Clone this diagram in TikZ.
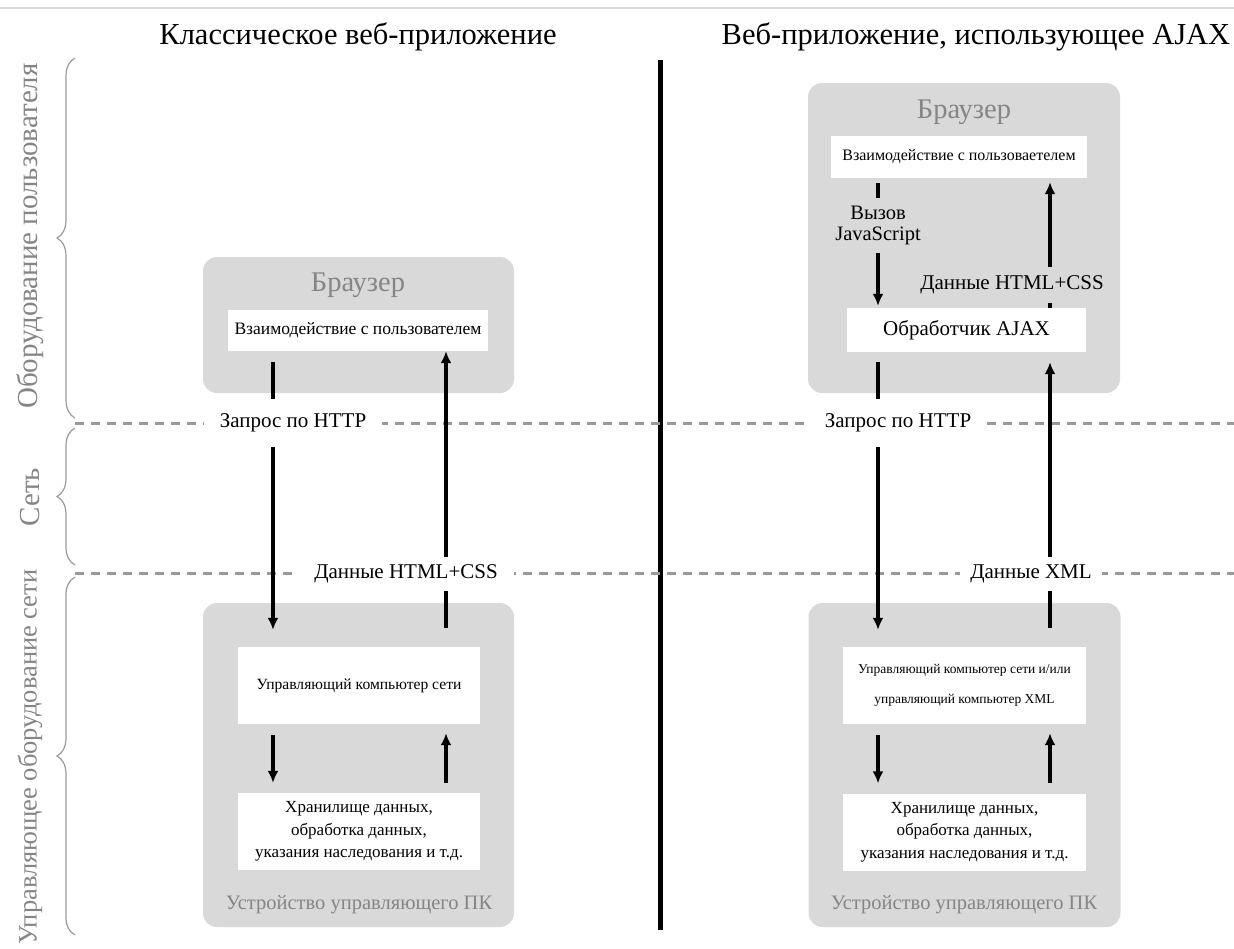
\documentclass[tikz,border=0pt]{standalone}
\usepackage{fontspec}
\setmainfont{Liberation Serif}
\usetikzlibrary{arrows.meta,positioning,decorations.pathreplacing}

\definecolor{panelgray}{HTML}{D9D9D9}
\definecolor{textgray}{HTML}{858585}
\definecolor{dashgray}{HTML}{9A9A9A}

\begin{document}
\begin{tikzpicture}[x=1pt, y=-1pt, >=Latex,
    panel/.style={fill=panelgray, rounded corners=14pt, inner sep=0pt},
    inner/.style={fill=white, inner sep=0pt, align=center,
        font=\fontsize{17.5}{22}\selectfont},
    head/.style={text=textgray, font=\fontsize{28.5}{32}\selectfont},
    foot/.style={text=textgray, font=\fontsize{20.5}{24}\selectfont},
    title/.style={font=\fontsize{30.5}{34}\selectfont},
    side/.style={text=textgray, rotate=90, font=\fontsize{29}{32}\selectfont},
    cut/.style={fill=white, inner xsep=16pt, inner ysep=0pt, align=center,
        font=\fontsize{21}{21}\selectfont},
    cutg/.style={cut, fill=panelgray, inner xsep=4pt},
    arrow/.style={->, line width=3.2pt, >={Latex[length=12pt,width=11pt]}},
    dashline/.style={dashgray, line width=3pt, dash pattern=on 9pt off 7pt},
    brace/.style={decorate, decoration={brace, amplitude=18pt},
        draw=dashgray, line width=1.2pt}
  ]

  \useasboundingbox (0,0) rectangle (1234,948);

  % frame line and titles
  \draw[panelgray, line width=1.5pt] (0,8) -- (1234,8);
  \node[title] (tL) at (358,37) {Классическое веб-приложение};
  \node[title] (tR) at (976,37) {Веб-приложение, использующее AJAX};
  \draw[line width=5pt] (660,60) -- (660,930);

  % layers
  \draw[brace] (75,418) -- (75,58);
  \draw[brace] (75,565) -- (75,428);
  \draw[brace] (75,935) -- (75,577);
  \node[side] (userhw) at (30,236) {Оборудование пользователя};
  \node[side] (net) at (30,497) {Сеть};
  \node[side, font=\fontsize{26.5}{30}\selectfont] (srvhw) at (30,757)
    {Управляющее оборудование сети};
  \draw[dashline] (75,423) -- (1234,423);
  \draw[dashline] (75,573) -- (1234,573);

  % classic web application
  \node[panel, minimum width=311pt, minimum height=136pt] (brL) at (358.5,325) {};
  \node[head] at (358,285) {Браузер};
  \node[inner, minimum width=260pt, minimum height=41pt] (uiL) at (358,330.5)
    {Взаимодействие с пользователем};
  \node[panel, minimum width=311pt, minimum height=324pt] (srvL) at (358.5,765) {};
  \node[inner, minimum width=242pt, minimum height=77pt,
    font=\fontsize{15.6}{22}\selectfont] (hostL) at (359,685.5)
    {Управляющий компьютер сети};
  \node[inner, minimum width=242pt, minimum height=77pt,
    font=\fontsize{17}{22.5}\selectfont] (dataL) at (359,831.5)
    {Хранилище данных,\\обработка данных,\\указания наследования и т.д.};
  \node[foot] at (359,905) {Устройство управляющего ПК};

  \coordinate (dnL) at (273,0);
  \coordinate (upL) at (446,0);
  \draw[arrow, shorten <=11pt, shorten >=17pt] (uiL.south -| dnL) -- (hostL.north -| dnL);
  \draw[arrow, shorten <=19pt] (hostL.north -| upL) -- (uiL.south -| upL);
  \draw[arrow, shorten <=11pt, shorten >=10pt] (hostL.south -| dnL) -- (dataL.north -| dnL);
  \draw[arrow, shorten <=10pt, shorten >=9pt] (dataL.north -| upL) -- (hostL.south -| upL);
  \node[cut, minimum height=48pt] (httpL) at (293,423) {Запрос по HTTP};
  \node[cut, minimum height=34pt] (htmlL) at (406,574) {Данные HTML+CSS};

  % web application with AJAX
  \node[panel, minimum width=312pt, minimum height=310pt] (brR) at (964,238) {};
  \node[head] at (964,112) {Браузер};
  \node[inner, minimum width=256pt, minimum height=42pt,
    font=\fontsize{16}{20}\selectfont] (uiR) at (959,157)
    {Взаимодействие с пользоваетелем};
  \node[inner, minimum width=239pt, minimum height=44pt,
    font=\fontsize{21}{21}\selectfont] (ajax) at (966.5,330) {Обработчик AJAX};
  \node[panel, minimum width=312pt, minimum height=324pt] (srvR) at (964.5,765) {};
  \node[inner, minimum width=243pt, minimum height=77pt,
    font=\fontsize{13.5}{30}\selectfont] (hostR) at (964.5,685.5)
    {Управляющий компьютер сети и/или\\управляющий компьютер XML};
  \node[inner, minimum width=243pt, minimum height=77pt,
    font=\fontsize{17}{22.5}\selectfont] (dataR) at (964.5,832)
    {Хранилище данных,\\обработка данных,\\указания наследования и т.д.};
  \node[foot] at (964,905) {Устройство управляющего ПК};

  \coordinate (dnR) at (878,0);
  \coordinate (upR) at (1050,0);
  \draw[arrow, shorten <=5pt, shorten >=2pt] (uiR.south -| dnR) -- (ajax.north -| dnR);
  \draw[arrow, shorten >=4pt] (ajax.north -| upR) -- (uiR.south -| upR);
  \draw[arrow, shorten <=10pt, shorten >=17pt] (ajax.south -| dnR) -- (hostR.north -| dnR);
  \draw[arrow, shorten <=19pt, shorten >=10pt] (hostR.north -| upR) -- (ajax.south -| upR);
  \draw[arrow, shorten <=11pt, shorten >=10pt] (hostR.south -| dnR) -- (dataR.north -| dnR);
  \draw[arrow, shorten <=10pt, shorten >=9pt] (dataR.north -| upR) -- (hostR.south -| upR);
  \node[cutg, minimum height=55pt, font=\fontsize{20.5}{21}\selectfont] (jsR) at (878,225)
    {Вызов\\JavaScript};
  \node[cutg, minimum height=36pt] (htmlR) at (1012,285) {Данные HTML+CSS};
  \node[cut, minimum height=48pt] (httpR) at (898,423) {Запрос по HTTP};
  \node[cut, inner xsep=10pt, minimum height=34pt] (xmlR) at (1031,574) {Данные XML};

\end{tikzpicture}
\end{document}
